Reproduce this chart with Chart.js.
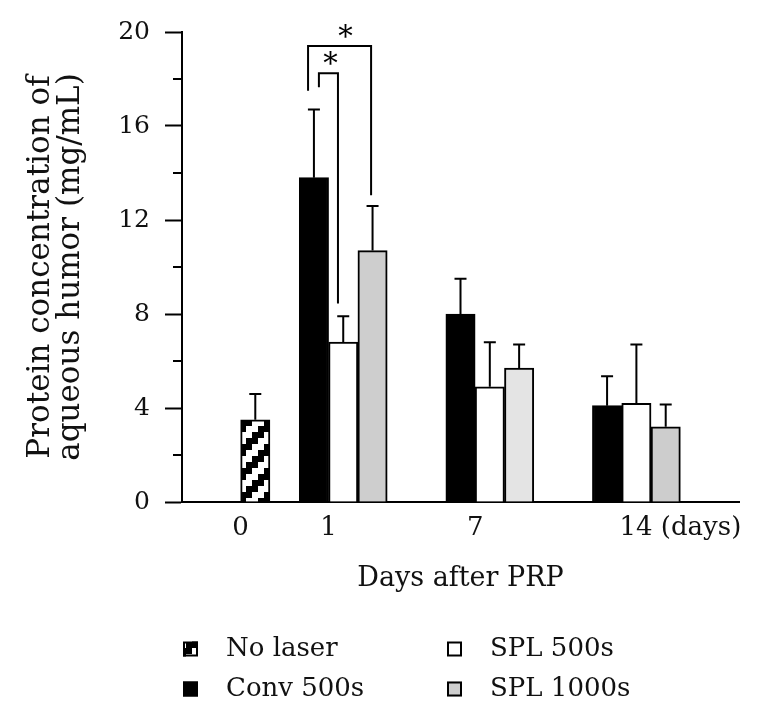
<!DOCTYPE html>
<html><head><meta charset="utf-8">
<script src="https://cdn.jsdelivr.net/npm/chart.js@4.4.1/dist/chart.umd.min.js"></script>
<style>html,body{margin:0;padding:0;background:#fff}#wrap{width:762px;height:718px;position:relative}</style>
</head><body><div id="wrap"><canvas id="c"></canvas></div>
<script>
// ---------- data ----------
const days = ['0', '1', '7', '14 (days)'];
const seriesNames = ['No laser', 'Conv 500s', 'SPL 500s', 'SPL 1000s'];
const noLaser    = [3.5, null, null, null];
const noLaserSD  = [1.1, null, null, null];
const conv500    = [null, 13.8, 8.0, 4.1];
const conv500SD  = [null, 2.9, 1.5, 1.25];
const spl500     = [null, 6.8, 4.9, 4.2];
const spl500SD   = [null, 1.1, 1.9, 2.5];
const spl1000    = [null, 10.7, 5.7, 3.2];
const spl1000SD  = [null, 1.9, 1.0, 0.95];
const yMin = 0, yMax = 20, yStep = 4;
// significance: day index 1, Conv 500s vs SPL 500s and Conv 500s vs SPL 1000s
const sigPairs = [
  {day: 1, a: 1, b: 3, top: 19.4, endA: 17.5, endB: 13.05, label: '*'},
  {day: 1, a: 1, b: 2, top: 18.25, endA: 17.65, endB: 8.45, label: '*'}
];

// ---------- layout (slots on the category axis) ----------
const SLOTS = 19;
const groupStart = [2, 4, 9, 14];
const labelSlot = [2, 5, 10, 17];
const seriesOffset = [0, 0, 1, 2];
const sigOffsets = [{da: -0.2, db: -0.05, star: 6}, {da: 0.17, db: -0.18, star: 2}];

const slotLabels = new Array(SLOTS).fill('');
days.forEach((d, i) => { slotLabels[labelSlot[i]] = d; });

function toSlots(arr, s) {
  const out = new Array(SLOTS).fill(null);
  arr.forEach((v, i) => { if (v !== null) out[groupStart[i] + seriesOffset[s]] = v; });
  return out;
}
function colorsToSlots(cols, s) {
  const out = new Array(SLOTS).fill('#fff');
  cols.forEach((c, i) => { if (c) out[groupStart[i] + seriesOffset[s]] = c; });
  return out;
}

const ctx = document.getElementById('c').getContext('2d');
function makePattern() {
  const t = document.createElement('canvas'); t.width = 24; t.height = 24;
  const g = t.getContext('2d');
  g.fillStyle = '#000'; g.fillRect(0, 0, 24, 24);
  g.fillStyle = '#fff';
  for (let r = 0; r < 4; r++) for (let c = 0; c < 4; c++) {
    const k = (r + c) % 4;
    if (k === 0 || k === 1) g.fillRect(c * 6, r * 6, 6, 6);
  }
  return ctx.createPattern(t, 'repeat');
}
const pattern = makePattern();

const values = [noLaser, conv500, spl500, spl1000];
const sds = [noLaserSD, conv500SD, spl500SD, spl1000SD];
const fills = [
  [pattern, null, null, null],
  [null, '#000', '#000', '#000'],
  [null, '#fff', '#fff', '#fff'],
  [null, '#cecece', '#e4e4e4', '#cdcdcd']
];
const legendFill = [pattern, '#000', '#fff', '#cecece'];

const datasets = seriesNames.map((name, s) => ({
  label: name,
  data: toSlots(values[s], s),
  sd: toSlots(sds[s], s),
  backgroundColor: colorsToSlots(fills[s], s),
  borderColor: '#000',
  borderWidth: 2,
  barPercentage: 1,
  categoryPercentage: 1
}));

const FONT = 'DejaVu Serif';

const extras = {
  id: 'extras',
  afterDatasetsDraw(chart) {
    const c = chart.ctx, y = chart.scales.y, x = chart.scales.x;
    c.save();
    c.strokeStyle = '#000'; c.lineWidth = 2;
    // error bars
    chart.data.datasets.forEach((ds, i) => {
      const meta = chart.getDatasetMeta(i);
      ds.data.forEach((v, j) => {
        if (v === null || ds.sd[j] === null) return;
        const el = meta.data[j];
        const top = y.getPixelForValue(v + ds.sd[j]);
        c.beginPath();
        c.moveTo(el.x, el.y); c.lineTo(el.x, top);
        c.moveTo(el.x - 6, top); c.lineTo(el.x + 6, top);
        c.stroke();
      });
    });
    // significance brackets
    sigPairs.forEach((p, k) => {
      const sa = groupStart[p.day] + seriesOffset[p.a] + sigOffsets[k].da;
      const sb = groupStart[p.day] + seriesOffset[p.b] + sigOffsets[k].db;
      const xa = x.getPixelForValue(sa), xb = x.getPixelForValue(sb);
      const yt = y.getPixelForValue(p.top);
      c.beginPath();
      c.moveTo(xa, y.getPixelForValue(p.endA));
      c.lineTo(xa, yt); c.lineTo(xb, yt);
      c.lineTo(xb, y.getPixelForValue(p.endB));
      c.stroke();
      c.fillStyle = '#000';
      c.font = '29px "' + FONT + '"';
      c.textAlign = 'center'; c.textBaseline = 'alphabetic';
      c.fillText(p.label, (xa + xb) / 2 + sigOffsets[k].star, yt);
    });
    // minor y ticks
    const ticks = y.ticks;
    for (let i = 0; i < ticks.length - 1; i++) {
      const mv = (ticks[i].value + ticks[i + 1].value) / 2;
      const py = y.getPixelForValue(mv);
      c.beginPath();
      c.moveTo(y.right - 9, py); c.lineTo(y.right, py);
      c.stroke();
    }
    c.restore();
  },
  afterDraw(chart) {
    const c = chart.ctx;
    const pos = [[183, 649], [183, 689], [447, 649], [447, 689]];
    c.save();
    chart.data.datasets.forEach((ds, i) => {
      const [lx, ly] = pos[i];
      c.fillStyle = legendFill[i];
      c.fillRect(lx, ly - 7.5, 15, 15);
      c.strokeStyle = '#000'; c.lineWidth = 2;
      c.strokeRect(lx + 1, ly - 6.5, 13, 13);
      c.fillStyle = '#111';
      c.font = '26px "' + FONT + '"';
      c.textAlign = 'left'; c.textBaseline = 'middle';
      c.fillText(ds.label, lx + 43, ly);
    });
    c.restore();
  }
};

new Chart(ctx, {
  type: 'bar',
  data: {labels: slotLabels, datasets},
  plugins: [extras],
  options: {
    responsive: true,
    maintainAspectRatio: false,
    animation: false,
    devicePixelRatio: 1,
    layout: {padding: {top: 32, right: 23, bottom: 116, left: 0}},
    plugins: {legend: {display: false}, tooltip: {enabled: false}},
    scales: {
      x: {
        stacked: true,
        afterFit: s => { s.height = 100; },
        grid: {display: false, drawTicks: false},
        border: {display: true, color: '#000', width: 2},
        ticks: {
          autoSkip: false, maxRotation: 0, minRotation: 0,
          padding: 11, labelOffset: -14.66,
          color: '#111', font: {family: FONT, size: 26}
        },
        title: {
          display: true, text: 'Days after PRP', color: '#111',
          font: {family: FONT, size: 27}, padding: {top: 0, bottom: 7}
        }
      },
      y: {
        min: yMin, max: yMax,
        afterFit: s => { s.width = 182; },
        grid: {display: true, drawOnChartArea: false, drawTicks: true, tickLength: 17, tickWidth: 2, tickColor: '#000'},
        border: {display: true, color: '#000', width: 2},
        ticks: {stepSize: yStep, padding: 15, color: '#111', font: {family: FONT, size: 25}},
        title: {
          display: true,
          text: ['Protein concentration of', 'aqueous humor (mg/mL)'],
          color: '#111',
          font: {family: FONT, size: 31, lineHeight: '30px'},
          padding: {top: 26, bottom: 0}
        }
      }
    }
  }
});
</script>
</body></html>
